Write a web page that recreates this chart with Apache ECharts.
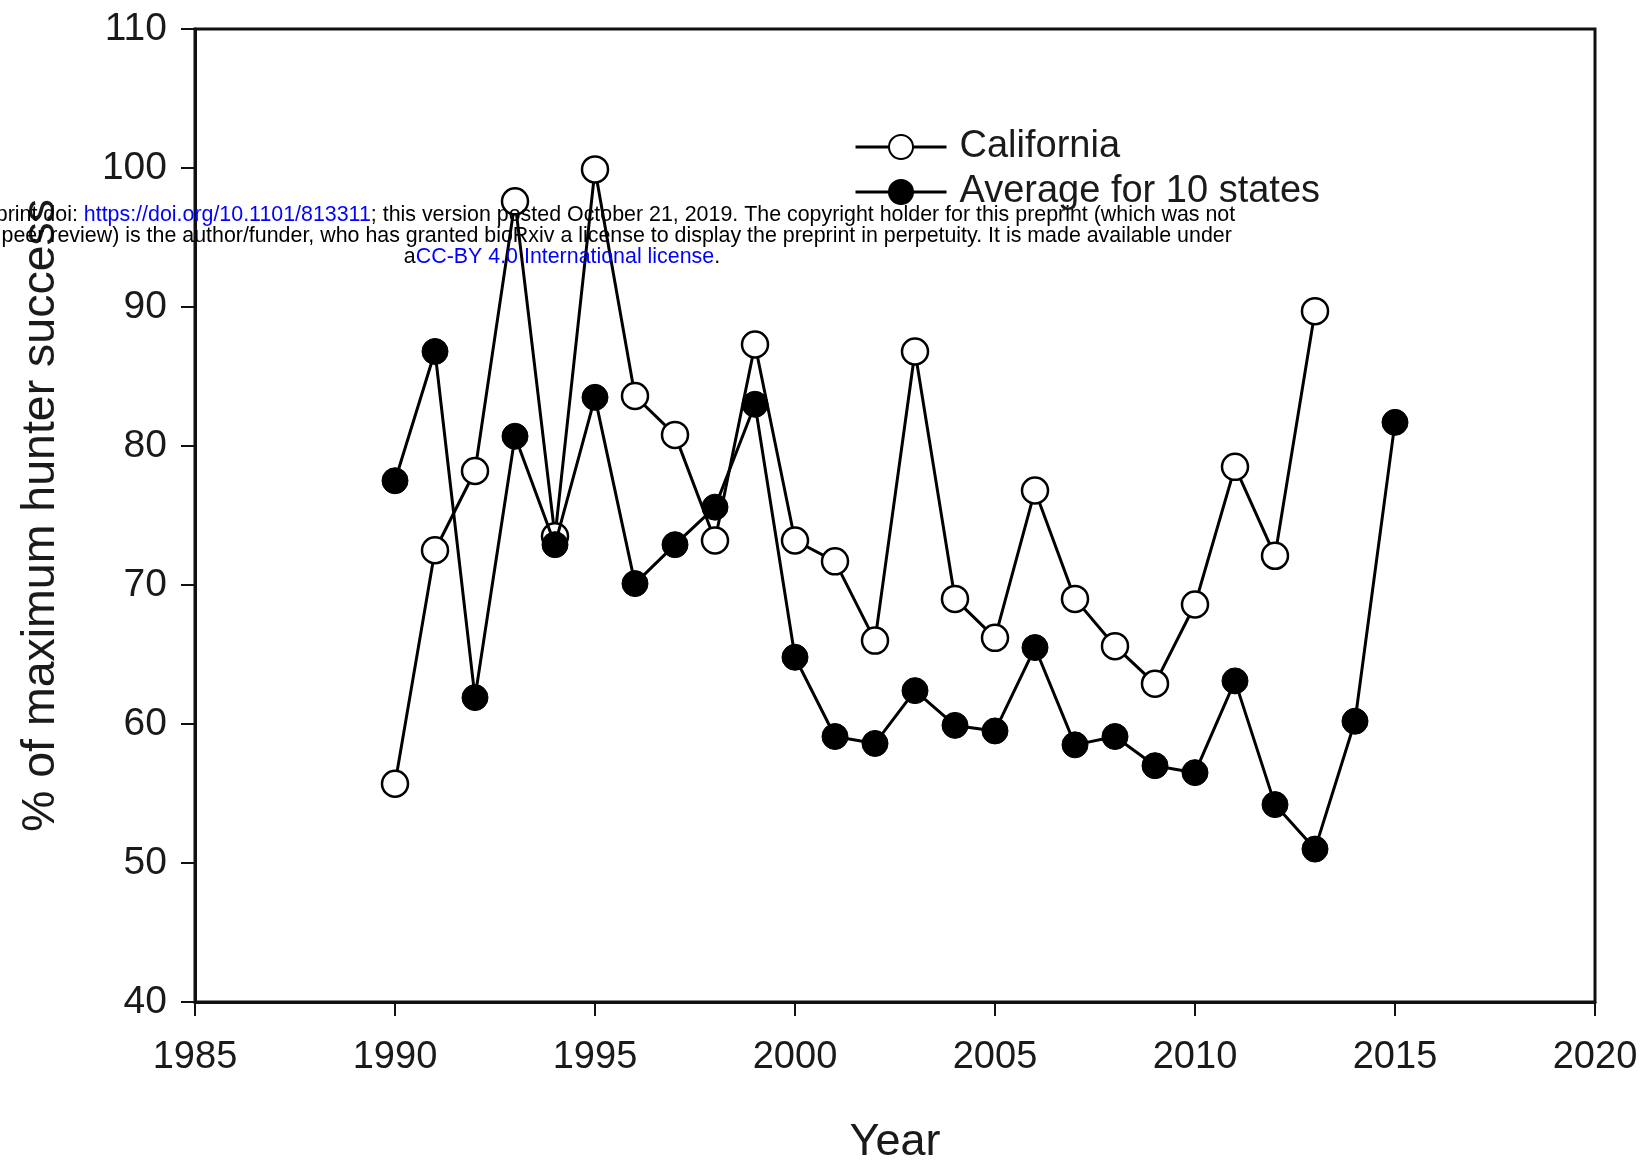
<!DOCTYPE html>
<html>
<head>
<meta charset="utf-8">
<script src="https://cdn.jsdelivr.net/npm/echarts@6/dist/echarts.min.js"></script>
<style>
html,body{margin:0;padding:0;background:#fff;}
#c{width:1647px;height:1170px;}
</style>
</head>
<body>
<div id="c"></div>
<script>
var caYears = [1990,1991,1992,1993,1994,1995,1996,1997,1998,1999,2000,2001,2002,2003,2004,2005,2006,2007,2008,2009,2010,2011,2012,2013];
var caValues = [55.7,72.5,78.2,97.6,73.5,99.9,83.6,80.8,73.2,87.3,73.2,71.7,66.0,86.8,69.0,66.2,76.8,69.0,65.6,62.9,68.6,78.5,72.1,89.7];
var avgYears = [1990,1991,1992,1993,1994,1995,1996,1997,1998,1999,2000,2001,2002,2003,2004,2005,2006,2007,2008,2009,2010,2011,2012,2013,2014,2015];
var avgValues = [77.5,86.8,61.9,80.7,72.9,83.5,70.1,72.9,75.6,83.0,64.8,59.1,58.6,62.4,59.9,59.5,65.5,58.5,59.1,57.0,56.5,63.1,54.2,51.0,60.2,81.7];
var seriesNames = ['California', 'Average for 10 states'];
var xTicks = {min:1985, max:2020, step:5};
var yTicks = {min:40, max:110, step:10};

function pairs(xs, ys){ return xs.map(function(x,i){ return [x, ys[i]]; }); }

var FONT = '"Liberation Sans", Arial, sans-serif';
var WM = 21.4;
var chart = echarts.init(document.getElementById('c'), null, {renderer:'canvas'});
chart.setOption({
  animation:false,
  backgroundColor:'#fff',
  grid:{left:195, right:52, top:29, bottom:165, show:true, borderColor:'#111', borderWidth:3, backgroundColor:'transparent'},
  legend:{
    orient:'vertical', left:849, top:123, itemGap:7, itemWidth:91, itemHeight:30,
    lineStyle:{width:3},
    textStyle:{fontFamily:FONT, fontSize:38, color:'#1a1a1a', padding:[0,0,0,8]},
    data:seriesNames
  },
  xAxis:{
    type:'value', min:xTicks.min, max:xTicks.max, interval:xTicks.step,
    name:'Year', nameLocation:'middle', nameGap:118,
    nameTextStyle:{fontFamily:FONT, fontSize:45, color:'#1a1a1a'},
    axisLine:{show:true, lineStyle:{color:'#111', width:3}},
    axisTick:{show:true, inside:false, length:14, lineStyle:{color:'#111', width:2}},
    axisLabel:{fontFamily:FONT, fontSize:38, color:'#1a1a1a', margin:37, formatter:function(v){return String(v);}},
    splitLine:{show:false}
  },
  yAxis:{
    type:'value', min:yTicks.min, max:yTicks.max, interval:yTicks.step,
    name:'% of maximum hunter success', nameLocation:'middle', nameGap:130,
    nameTextStyle:{fontFamily:FONT, fontSize:46.5, color:'#1a1a1a'},
    axisLine:{show:true, lineStyle:{color:'#111', width:3}},
    axisTick:{show:true, inside:false, length:14, lineStyle:{color:'#111', width:2}},
    axisLabel:{fontFamily:FONT, fontSize:39, color:'#1a1a1a', margin:28},
    splitLine:{show:false}
  },
  series:[
    {
      name:seriesNames[0], type:'line', data:pairs(caYears, caValues),
      symbol:'circle', symbolSize:26, showAllSymbol:true, z:2,
      lineStyle:{color:'#000', width:3},
      itemStyle:{color:'#fff', borderColor:'#000', borderWidth:2.5}
    },
    {
      name:seriesNames[1], type:'line', data:pairs(avgYears, avgValues),
      symbol:'circle', symbolSize:26, showAllSymbol:true, z:3,
      lineStyle:{color:'#000', width:3},
      itemStyle:{color:'#000', borderColor:'#000', borderWidth:1}
    }
  ],
  graphic:[
    {type:'text', x:562, y:215, z:100, silent:true, style:{
      text:'bioRxiv preprint doi: {b|https://doi.org/10.1101/813311}; this version posted October 21, 2019. The copyright holder for this preprint (which was not',
      rich:{b:{fill:'#0000ff', fontSize:WM, fontFamily:FONT}},
      fill:'#000', fontSize:WM, fontFamily:FONT, align:'center', verticalAlign:'middle'}},
    {type:'text', x:562, y:236, z:100, silent:true, style:{
      text:'certified by peer review) is the author/funder, who has granted bioRxiv a license to display the preprint in perpetuity. It is made available under',
      fill:'#000', fontSize:WM, fontFamily:FONT, align:'center', verticalAlign:'middle'}},
    {type:'text', x:562, y:257, z:100, silent:true, style:{
      text:'a{b|CC-BY 4.0 International license}.',
      rich:{b:{fill:'#0000ff', fontSize:WM, fontFamily:FONT}},
      fill:'#000', fontSize:WM, fontFamily:FONT, align:'center', verticalAlign:'middle'}}
  ]
});
</script>
</body>
</html>
